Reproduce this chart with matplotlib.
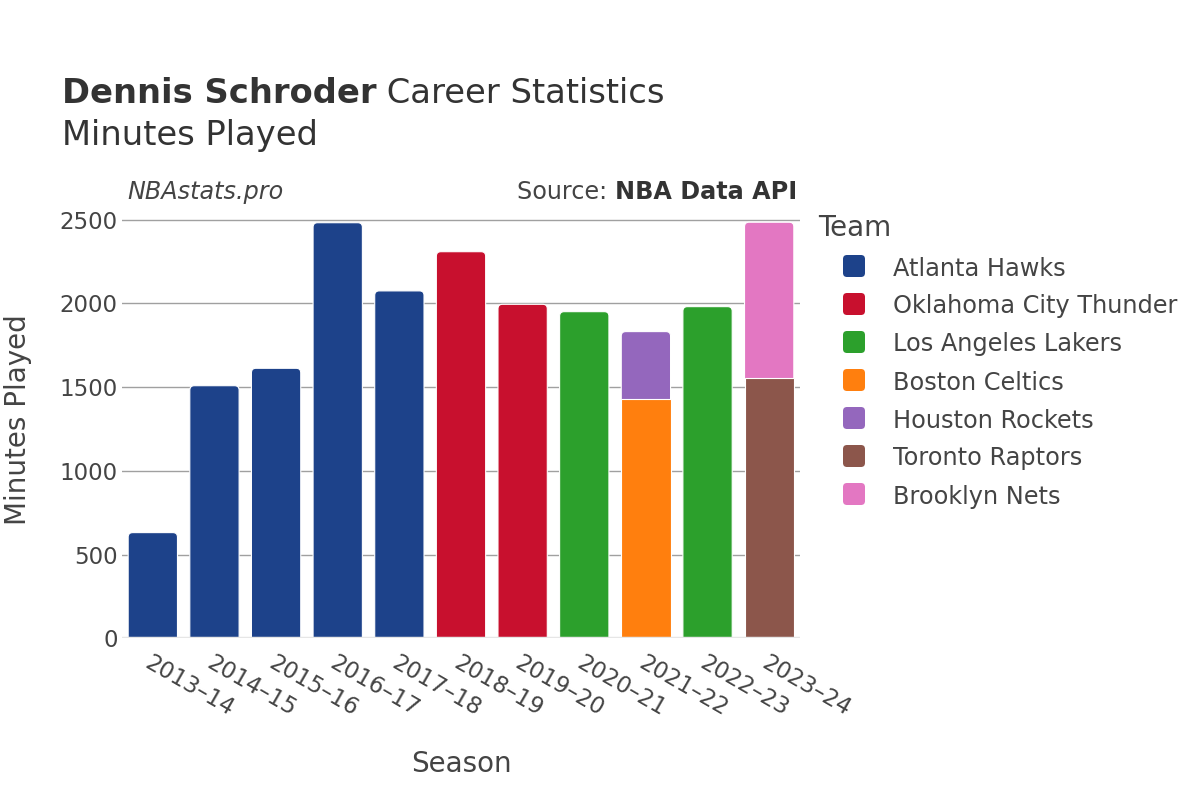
import matplotlib
matplotlib.use("Agg")
import matplotlib.pyplot as plt
from matplotlib.patches import FancyBboxPatch
import numpy as np

plt.rcParams['font.family'] = ['DejaVu Sans']

seasons = ['2013–14', '2014–15', '2015–16', '2016–17', '2017–18', '2018–19',
           '2019–20', '2020–21', '2021–22', '2022–23', '2023–24']
teams = ['Atlanta Hawks', 'Oklahoma City Thunder', 'Los Angeles Lakers',
         'Boston Celtics', 'Houston Rockets', 'Toronto Raptors', 'Brooklyn Nets']
colors = ['#1d428a', '#c8102e', '#2ca02c', '#ff7f0e', '#9467bd', '#8c564b', '#e377c2']

# minutes per team per season (0 = not on that team)
hawks   = [632, 1509, 1613, 2482, 2075, 0, 0, 0, 0, 0, 0]
thunder = [0, 0, 0, 0, 0, 2309, 1995, 0, 0, 0, 0]
lakers  = [0, 0, 0, 0, 0, 0, 0, 1951, 0, 1981, 0]
celtics = [0, 0, 0, 0, 0, 0, 0, 0, 1430, 0, 0]
rockets = [0, 0, 0, 0, 0, 0, 0, 0, 402, 0, 0]
raptors = [0, 0, 0, 0, 0, 0, 0, 0, 0, 0, 1557]
nets    = [0, 0, 0, 0, 0, 0, 0, 0, 0, 0, 928]
series = [hawks, thunder, lakers, celtics, rockets, raptors, nets]

dark = '#444444'

fig = plt.figure(figsize=(12, 8), dpi=100)
ax = fig.add_axes([122 / 1200, 0.2019, 678 / 1200, 0.5465])
ax.set_xlim(-0.5, len(seasons) - 0.5)
ax.set_ylim(0, 2610)

x = np.arange(len(seasons))
bottom = np.zeros(len(seasons))
containers = []
for vals, col in zip(series, colors):
    vals = np.array(vals, dtype=float)
    bc = ax.bar(x, vals, width=0.8, bottom=bottom, color=col,
                edgecolor='white', linewidth=0.8, zorder=3)
    containers.append((bc, vals))
    bottom += vals
totals = bottom

# round the top corners of each stack (plotly style)
px_x = 678 / (len(seasons))          # pixels per x unit
px_y = 0.5465 * 800 / 2610           # pixels per y unit
rad_px = 4.5
rx = rad_px / px_x
aspect = (rad_px / px_y) / rx
for bc, vals in containers:
    for i, rect in enumerate(bc.patches):
        if vals[i] <= 0:
            rect.set_visible(False)
            continue
        x0, y0 = rect.get_x(), rect.get_y()
        w, h = rect.get_width(), rect.get_height()
        if abs(y0 + h - totals[i]) < 1e-6:
            ext = rad_px / px_y * 1.5
            rp = FancyBboxPatch((x0, y0 - ext), w, h + ext,
                                boxstyle='round,pad=0,rounding_size=%f' % rx,
                                mutation_aspect=aspect,
                                facecolor=rect.get_facecolor(),
                                edgecolor='white', linewidth=0.8, zorder=2.5)
            ax.add_patch(rp)
            rect.set_visible(False)

ax.set_yticks([0, 500, 1000, 1500, 2000, 2500])
ax.yaxis.grid(True, color='#a0a0a0', linewidth=1, zorder=0)
ax.axhline(0, color='#e6e6e6', linewidth=2.5, zorder=4)
for s in ax.spines.values():
    s.set_visible(False)
ax.tick_params(axis='y', length=0, labelsize=16.5, colors=dark, pad=3)
ax.set_xticks(x)
ax.set_xticklabels(seasons, rotation=-30, ha='left', va='top',
                   rotation_mode='anchor', fontsize=16.5, color=dark)
ax.tick_params(axis='x', length=0, pad=9)
ax.set_xlabel('Season', fontsize=20, color=dark, labelpad=21)
ax.set_ylabel('Minutes Played', fontsize=20, color=dark, labelpad=20)

# titles
fig.canvas.draw()
r = fig.canvas.get_renderer()
t1 = fig.text(62 / 1200, 1 - 103 / 800, 'Dennis Schroder', fontsize=24.3,
              fontweight='bold', color='#333333', va='baseline')
ext = t1.get_window_extent(renderer=r)
fig.text(ext.x1 / 1200, 1 - 103 / 800, ' Career Statistics', fontsize=24.3,
         color='#333333', va='baseline')
fig.text(62 / 1200, 1 - 145 / 800, 'Minutes Played', fontsize=24.3,
         color='#333333', va='baseline')

fig.text(127 / 1200, 1 - 192 / 800, 'NBAstats.pro', fontsize=17.2,
         style='italic', color=dark, va='center')
s2 = fig.text(797 / 1200, 1 - 192 / 800, 'NBA Data API', fontsize=17.2,
              fontweight='bold', color='#333333', va='center', ha='right')
ext2 = s2.get_window_extent(renderer=r)
fig.text(ext2.x0 / 1200, 1 - 192 / 800, 'Source: ', fontsize=17.2,
         color=dark, va='center', ha='right')

# legend
fig.text(818 / 1200, 1 - 236 / 800, 'Team', fontsize=20, color=dark,
         va='baseline')
for k, (team, col) in enumerate(zip(teams, colors)):
    yc = 266 + 38 * k
    fig.patches.append(FancyBboxPatch(
        (843 / 1200, 1 - (yc + 11) / 800), 22 / 1200, 22 / 800,
        boxstyle='round,pad=0,rounding_size=%f' % (4 / 1200),
        mutation_aspect=1200 / 800, transform=fig.transFigure,
        facecolor=col, edgecolor='none', figure=fig))
    fig.text(893 / 1200, 1 - yc / 800, team, fontsize=17.3, color=dark,
             va='center_baseline')

fig.savefig('out.png', dpi=100, facecolor='white')
